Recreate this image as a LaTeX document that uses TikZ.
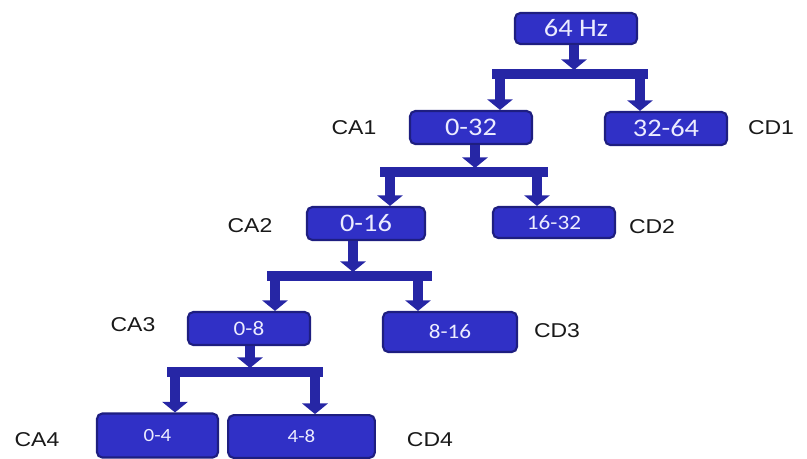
\documentclass[tikz,border=0pt]{standalone}
\usepackage{fontspec}
\setmainfont[FakeStretch=1.15]{Liberation Sans}
\newfontfamily\boxfont[FakeStretch=1.12]{Carlito}
\usetikzlibrary{arrows.meta}
\definecolor{boxfill}{RGB}{48,48,198}
\definecolor{boxedge}{RGB}{30,30,128}
\definecolor{stemcol}{RGB}{38,38,165}
\definecolor{boxtext}{RGB}{236,236,255}
\begin{document}
\begin{tikzpicture}[x=0.75pt,y=-0.75pt,
  band/.style={fill=boxfill,draw=boxedge,line width=1.6pt,rounded corners=4pt,
    inner sep=0pt,text=boxtext,font=\boxfont},
  big/.style={font=\boxfont\fontsize{19}{22}\selectfont},
  mid/.style={font=\boxfont\fontsize{15.5}{18}\selectfont},
  small/.style={font=\boxfont\fontsize{14}{17}\selectfont},
  tag/.style={font=\fontsize{15}{18}\selectfont,text=black!90},
  bar/.style={draw=stemcol,line width=7.5pt},
  stem/.style={draw=stemcol,line width=7.5pt,-{Triangle[width=19pt,length=8pt]}}]
\useasboundingbox (0,0) rectangle (807,458);

% frequency bands
\node[band,big,minimum width=91.5pt,minimum height=23.25pt] (b0) at (576,28.5) {64 Hz};
\node[band,big,minimum width=91.5pt,minimum height=24.75pt] (b1) at (471,127.5) {0-32};
\node[band,big,minimum width=91.5pt,minimum height=24.75pt] (d1) at (666,128.5) {32-64};
\node[band,big,minimum width=88.5pt,minimum height=24.75pt] (b2) at (366,223.5) {0-16};
\node[band,mid,minimum width=91.5pt,minimum height=23.25pt] (d2) at (554,222.5) {16-32};
\node[band,mid,minimum width=91.5pt,minimum height=24.75pt] (b3) at (249,328.5) {0-8};
\node[band,mid,minimum width=100.5pt,minimum height=30pt] (d3) at (450,332) {8-16};
\node[band,small,minimum width=90.75pt,minimum height=33pt] (b4) at (157.5,435.5) {0-4};
\node[band,small,minimum width=110pt,minimum height=32pt] (d4) at (301.5,436.5) {4-8};

% coefficient labels
\node[tag] (ca1) at (354,128) {CA1};
\node[tag] (cd1) at (771,128) {CD1};
\node[tag] (ca2) at (250,226) {CA2};
\node[tag] (cd2) at (652,227) {CD2};
\node[tag] (ca3) at (133,325) {CA3};
\node[tag] (cd3) at (557,331) {CD3};
\node[tag] (ca4) at (37,440) {CA4};
\node[tag] (cd4) at (430,440) {CD4};

% split bars
\coordinate (s1) at (574,70);  \coordinate (l1) at (492,74);  \coordinate (r1) at (648,74);
\coordinate (s2) at (475,168); \coordinate (l2) at (380,172); \coordinate (r2) at (548,172);
\coordinate (s3) at (353,272); \coordinate (l3) at (267,276); \coordinate (r3) at (432,276);
\coordinate (s4) at (250,368); \coordinate (l4) at (167,372); \coordinate (r4) at (323,372);
\draw[bar] (l1) -- (r1);
\draw[bar] (l2) -- (r2);
\draw[bar] (l3) -- (r3);
\draw[bar] (l4) -- (r4);

% parent to bar
\draw[stem] (b0.south -| s1) -- (s1);
\draw[stem] (b1.south -| s2) -- (s2);
\draw[stem] (b2.south -| s3) -- (s3);
\draw[stem] (b3.south -| s4) -- (s4);

% bar to children
\coordinate (c1a) at (500,74);  \coordinate (c1b) at (640,74);
\coordinate (c2a) at (390,172); \coordinate (c2b) at (537,172);
\coordinate (c3a) at (275,276); \coordinate (c3b) at (418,276);
\coordinate (c4a) at (175,372); \coordinate (c4b) at (315,372);
\draw[stem] (c1a) -- (c1a |- b1.north);
\draw[stem] (c1b) -- (c1b |- d1.north);
\draw[stem] (c2a) -- (c2a |- b2.north);
\draw[stem] (c2b) -- (c2b |- d2.north);
\draw[stem] (c3a) -- (c3a |- b3.north);
\draw[stem] (c3b) -- (c3b |- d3.north);
\draw[stem] (c4a) -- (c4a |- b4.north);
\draw[stem] (c4b) -- (c4b |- d4.north);
\end{tikzpicture}
\end{document}
